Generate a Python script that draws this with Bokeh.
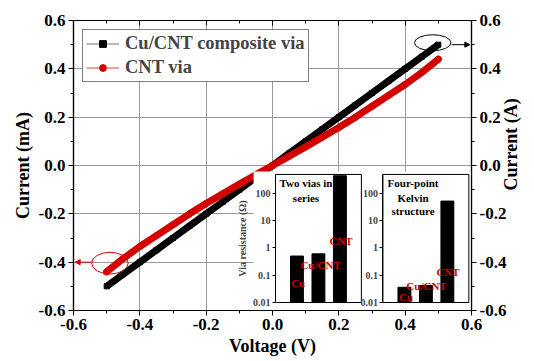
import math
from bokeh.plotting import figure
from bokeh.models import (Range1d, LinearAxis, LogAxis, LogScale, FixedTicker,
                          PrintfTickFormatter, Legend, LegendItem, Arrow, NormalHead)
from bokeh.core.properties import value
from bokeh.embed import file_html
from bokeh.resources import INLINE

# ---------------- data ----------------
voltage = [-0.50, -0.45, -0.40, -0.35, -0.30, -0.25, -0.20, -0.15, -0.10, -0.05, 0.00,
           0.05, 0.10, 0.15, 0.20, 0.25, 0.30, 0.35, 0.40, 0.45, 0.50]
current_cucnt = [-0.50, -0.45, -0.40, -0.35, -0.30, -0.25, -0.20, -0.15, -0.10, -0.05, 0.00,
                 0.05, 0.10, 0.15, 0.20, 0.25, 0.30, 0.35, 0.40, 0.45, 0.50]
current_cnt = [-0.44, -0.385, -0.335, -0.29, -0.245, -0.20, -0.157, -0.117, -0.077, -0.038, 0.00,
               0.038, 0.077, 0.117, 0.157, 0.20, 0.245, 0.29, 0.335, 0.385, 0.44]
series_names = ["Cu/CNT composite via", "CNT via"]

bar_labels = ["Cu", "Cu/CNT", "CNT"]
bar_pos = [1, 2, 3]
res_two_vias = [0.5, 0.6, 430]
res_kelvin = [0.036, 0.042, 51]
inset_titles = [["Two vias in", "series"], ["Four-point", "Kelvin", "structure"]]
inset_ytitle = "Via resistance (\u03a9)"
right_title = "Current (A)"

main_ticks = [-0.6, -0.4, -0.2, 0.0, 0.2, 0.4, 0.6]
main_minor = [-0.5, -0.3, -0.1, 0.1, 0.3, 0.5]
inset_ticks = [0.01, 0.1, 1, 10, 100]

# ---------------- layout constants ----------------
X_RANGE = (-0.6, 0.6)
Y_RANGE = (-0.6, 0.6)
INSET_SPAN_X = [(0.009, 0.268), (0.333, 0.592)]
INSET_SPAN_Y = (-0.567, -0.037)
INSET_X = (0, 4)
INSET_LOG = (0.01, 480)
WHITE_BOX = dict(left=-0.057, right=0.6, bottom=-0.6, top=-0.025)
RIGHT_TITLE_Y = -0.103   # anchor (start) of the rotated right-hand title

# label placements inside the insets (inset x, log y)
label_x = [[0.73, 1.16, 2.51], [0.75, 1.09, 2.49]]
label_y = [[0.05, 0.245, 1.76], [0.0166, 0.0386, 0.129]]
title_x = [1.42, 1.40]
title_y = [224, 66, 21.4]

# annotations (ellipse + arrow)
ELL = [dict(x=0.483, y=0.508, w=0.11, h=0.066, color="black"),
       dict(x=-0.49, y=-0.404, w=0.11, h=0.09, color="#d40000")]
ARR = [dict(x0=0.54, x1=0.595, y=0.50, color="black"),
       dict(x0=-0.545, x1=-0.595, y=-0.40, color="#d40000")]

BLACK = "black"
RED = "#d40000"
FONT = "Liberation Serif"


def lin_extra(span, inner):
    a, b = span
    u0, u1 = inner
    k = (u1 - u0) / (b - a)
    return Range1d(u0 - (a - X_RANGE[0]) * k, u1 + (X_RANGE[1] - b) * k)


l0, l1 = math.log10(INSET_LOG[0]), math.log10(INSET_LOG[1])
ky = (l1 - l0) / (INSET_SPAN_Y[1] - INSET_SPAN_Y[0])
log_lo = l0 - (INSET_SPAN_Y[0] - Y_RANGE[0]) * ky
log_hi = l1 + (Y_RANGE[1] - INSET_SPAN_Y[1]) * ky

p = figure(width=534, height=361, x_range=Range1d(*X_RANGE), y_range=Range1d(*Y_RANGE),
           output_backend="svg", toolbar_location=None,
           min_border_left=73, min_border_right=63, min_border_top=20, min_border_bottom=51,
           x_axis_label="Voltage (V)", y_axis_label="Current (mA)")
p.extra_x_ranges = {"ix1": lin_extra(INSET_SPAN_X[0], INSET_X),
                    "ix2": lin_extra(INSET_SPAN_X[1], INSET_X)}
p.extra_y_ranges = {"ily": Range1d(10 ** log_lo, 10 ** log_hi)}
p.extra_y_scales = {"ily": LogScale()}
p.outline_line_color = "black"
p.outline_line_width = 1.2
p.background_fill_color = "white"
p.border_fill_color = "white"

fmt = PrintfTickFormatter(format="%.1f")


def style_axis(ax):
    ax.ticker = FixedTicker(ticks=main_ticks, minor_ticks=main_minor)
    ax.formatter = fmt
    ax.axis_line_color = "black"
    ax.axis_line_width = 1.2
    ax.major_tick_line_color = "black"
    ax.minor_tick_line_color = "black"
    ax.major_tick_out = 5
    ax.major_tick_in = 0
    ax.minor_tick_out = 3
    ax.minor_tick_in = 0
    ax.major_label_text_font = FONT
    ax.major_label_text_font_style = "bold"
    ax.major_label_text_font_size = "17px"
    ax.major_label_text_color = "black"
    ax.axis_label_text_font = FONT
    ax.axis_label_text_font_style = "bold"
    ax.axis_label_text_font_size = "18px"
    ax.axis_label_text_color = "black"
    ax.axis_label_standoff = 3
    ax.major_label_standoff = 3


style_axis(p.xaxis[0])
style_axis(p.yaxis[0])

right = LinearAxis()
style_axis(right)
p.add_layout(right, "right")

# right-hand axis title, drawn as a single rotated label so it reads bottom-to-top
right_title_axis = LinearAxis(ticker=FixedTicker(ticks=[RIGHT_TITLE_Y], minor_ticks=[]),
                              major_label_overrides={RIGHT_TITLE_Y: right_title},
                              major_label_orientation=math.pi / 2)
right_title_axis.axis_line_color = None
right_title_axis.major_tick_line_color = None
right_title_axis.minor_tick_line_color = None
right_title_axis.major_tick_out = 0
right_title_axis.major_tick_in = 0
right_title_axis.major_label_standoff = 2
right_title_axis.major_label_text_font = FONT
right_title_axis.major_label_text_font_style = "bold"
right_title_axis.major_label_text_font_size = "18px"
right_title_axis.major_label_text_color = "black"
p.add_layout(right_title_axis, "right")

top = LinearAxis()
style_axis(top)
top.major_tick_in = 5
top.major_tick_out = 0
top.minor_tick_in = 3
top.minor_tick_out = 0
top.major_label_text_color = None
top.major_label_text_font_size = "2px"
top.major_label_standoff = 0
p.add_layout(top, "above")

for g in (p.xgrid[0], p.ygrid[0]):
    g.ticker = FixedTicker(ticks=main_ticks)
    g.grid_line_color = "#9a9a9a"
    g.grid_line_width = 1

# ---------------- curves ----------------
thin_b = p.line(voltage, current_cucnt, line_color="#a0a0a0", line_width=1.5)
thin_r = p.line(voltage, current_cnt, line_color="#f08080", line_width=1.5)
p.line(voltage, current_cucnt, line_color=BLACK, line_width=7)
sq = p.scatter(voltage, current_cucnt, marker="square", size=5, fill_color=BLACK, line_color=BLACK)
p.line(voltage, current_cnt, line_color=RED, line_width=7, line_cap="round")
ci = p.scatter(voltage, current_cnt, marker="circle", size=6, fill_color=RED, line_color=RED)

# ellipses and arrows
for e in ELL:
    p.ellipse(x=[e["x"]], y=[e["y"]], width=[e["w"]], height=[e["h"]],
              fill_alpha=0, line_color=e["color"], line_width=1)
for a in ARR:
    p.add_layout(Arrow(end=NormalHead(size=5, fill_color=a["color"], line_color=a["color"]),
                       x_start=a["x0"], y_start=a["y"], x_end=a["x1"], y_end=a["y"],
                       line_color=a["color"], line_width=1))

# ---------------- insets ----------------
p.quad(fill_color="white", line_alpha=0, **{k: [v] for k, v in WHITE_BOX.items()})

for k, (rng, vals) in enumerate([("ix1", res_two_vias), ("ix2", res_kelvin)]):
    p.vbar(x=bar_pos, top=vals, bottom=INSET_LOG[0], width=0.6,
           fill_color=BLACK, line_color=BLACK, x_range_name=rng, y_range_name="ily")
    p.quad(left=[INSET_X[0]], right=[INSET_X[1]], bottom=[INSET_LOG[0]], top=[INSET_LOG[1]],
           fill_alpha=0, line_color="black", line_width=1,
           x_range_name=rng, y_range_name="ily")
    p.text(x=label_x[k], y=label_y[k], text=bar_labels, x_range_name=rng, y_range_name="ily",
           text_font=value(FONT), text_font_style="bold", text_font_size="11px",
           text_color=RED, text_align="left", text_baseline="middle")
    titles = inset_titles[k]
    p.text(x=[title_x[k]] * len(titles), y=title_y[:len(titles)], text=titles,
           x_range_name=rng, y_range_name="ily",
           text_font=value(FONT), text_font_style="bold", text_font_size="11px",
           text_color="black", text_align="center", text_baseline="middle")
    ax = LogAxis(y_range_name="ily", x_range_name=rng, fixed_location=INSET_X[0],
                 bounds=INSET_LOG, ticker=FixedTicker(ticks=inset_ticks),
                 formatter=PrintfTickFormatter(format="%g"))
    ax.axis_label = inset_ytitle if k == 0 else None
    ax.axis_line_color = "black"
    ax.major_tick_out = 3
    ax.major_tick_in = 0
    ax.minor_tick_line_color = None
    ax.major_label_text_font = FONT
    ax.major_label_text_font_style = "bold"
    ax.major_label_text_font_size = "10px"
    ax.major_label_standoff = 2
    ax.axis_label_text_font = FONT
    ax.axis_label_text_font_style = "bold"
    ax.axis_label_text_font_size = "10px"
    ax.axis_label_standoff = 2
    p.add_layout(ax, "left")

# ---------------- legend ----------------
legend = Legend(items=[LegendItem(label=series_names[0], renderers=[thin_b, sq]),
                       LegendItem(label=series_names[1], renderers=[thin_r, ci])],
                location="top_left")
legend.margin = 9
legend.padding = 3
legend.spacing = 3
legend.glyph_width = 33
legend.glyph_height = 17
legend.label_height = 17
legend.label_standoff = 6
legend.label_text_font = FONT
legend.label_text_font_style = "bold"
legend.label_text_font_size = "18.5px"
legend.border_line_color = "black"
legend.border_line_width = 1
legend.background_fill_color = "white"
legend.background_fill_alpha = 1
p.add_layout(legend, "center")

open("out.html", "w").write(file_html(p, INLINE))
